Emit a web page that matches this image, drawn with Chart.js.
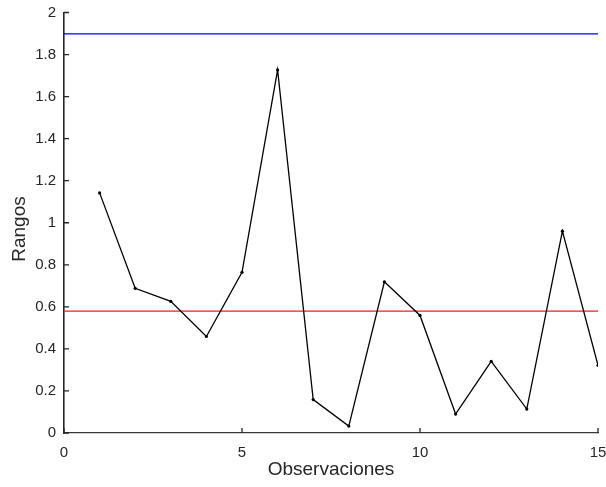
<!DOCTYPE html>
<html>
<head>
<meta charset="utf-8">
<script src="https://cdn.jsdelivr.net/npm/chart.js@4/dist/chart.umd.min.js"></script>
<style>
  html, body { margin: 0; padding: 0; background: #fff; }
  #wrap { width: 606px; height: 487px; position: relative; }
</style>
</head>
<body>
<div id="wrap"><canvas id="c" width="606" height="487"></canvas></div>
<script>
// Observations and their ranges
const observaciones = [1, 2, 3, 4, 5, 6, 7, 8, 9, 10, 11, 12, 13, 14, 15];
const rangos = [1.142, 0.688, 0.626, 0.459, 0.764, 1.727, 0.159, 0.033, 0.719, 0.559, 0.090, 0.341, 0.114, 0.960, 0.322];

// Control limits
const limiteSuperior = 1.898;
const limiteCentral = 0.58;
const limiteX = [0, 15];

// Axis text
const tituloX = 'Observaciones';
const tituloY = 'Rangos';
const xTicks = [0, 5, 10, 15];

const FONT = '"Liberation Sans", Arial, Helvetica, sans-serif';
const TEXT = '#262626';

const serie = observaciones.map((x, i) => ({ x, y: rangos[i] }));
const lineaSup = limiteX.map(x => ({ x, y: limiteSuperior }));
const lineaCen = limiteX.map(x => ({ x, y: limiteCentral }));

// Inward tick marks on both axes, placed by each scale
const inwardTicks = {
  id: 'inwardTicks',
  afterDatasetsDraw(chart) {
    const { ctx, chartArea, scales } = chart;
    const len = 5;
    ctx.save();
    ctx.strokeStyle = TEXT;
    ctx.lineWidth = 1.3;
    ctx.beginPath();
    scales.x.ticks.forEach(t => {
      const px = scales.x.getPixelForValue(t.value);
      ctx.moveTo(px, chartArea.bottom);
      ctx.lineTo(px, chartArea.bottom - len);
    });
    scales.y.ticks.forEach(t => {
      const py = scales.y.getPixelForValue(t.value);
      ctx.moveTo(chartArea.left, py);
      ctx.lineTo(chartArea.left + len, py);
    });
    ctx.stroke();
    ctx.restore();
  }
};

// Axis titles drawn beside the axes
const axisTitles = {
  id: 'axisTitles',
  afterDraw(chart) {
    const { ctx, chartArea } = chart;
    ctx.save();
    ctx.fillStyle = TEXT;
    ctx.font = '19px ' + FONT;
    ctx.textAlign = 'center';
    ctx.textBaseline = 'middle';
    ctx.fillText(tituloX, (chartArea.left + chartArea.right) / 2, 470);
    ctx.translate(20, 229);
    ctx.rotate(-Math.PI / 2);
    ctx.fillText(tituloY, 0, 0);
    ctx.restore();
  }
};

new Chart(document.getElementById('c'), {
  type: 'scatter',
  data: {
    datasets: [
      {
        data: lineaSup,
        showLine: true,
        borderColor: '#0000ff',
        borderWidth: 1.2,
        pointRadius: 0,
        order: 2
      },
      {
        data: lineaCen,
        showLine: true,
        borderColor: '#ff1a1a',
        borderWidth: 1.2,
        pointRadius: 0,
        order: 2
      },
      {
        data: serie,
        showLine: true,
        borderColor: '#000000',
        borderWidth: 1.3,
        pointRadius: 1.6,
        pointBackgroundColor: '#000000',
        pointBorderWidth: 0,
        order: 1
      }
    ]
  },
  options: {
    responsive: false,
    animation: false,
    devicePixelRatio: 1,
    layout: { padding: { top: 12.5, right: 8, left: 0, bottom: 0 } },
    plugins: { legend: { display: false }, tooltip: { enabled: false } },
    scales: {
      x: {
        type: 'linear',
        min: 0,
        max: 15,
        afterFit: s => { s.height = 54; s.paddingLeft = 0; s.paddingRight = 0; },
        afterBuildTicks: s => { s.ticks = xTicks.map(v => ({ value: v })); },
        grid: { display: false, drawTicks: false },
        border: { display: true, color: '#3a3a3a', width: 1.3 },
        ticks: { color: TEXT, font: { family: FONT, size: 15 }, padding: 11, maxRotation: 0 }
      },
      y: {
        type: 'linear',
        min: 0,
        max: 2,
        afterFit: s => { s.width = 64; s.paddingTop = 0; s.paddingBottom = 0; },
        grid: { display: false, drawTicks: false },
        border: { display: true, color: TEXT, width: 1.6 },
        ticks: {
          stepSize: 0.2,
          color: TEXT,
          font: { family: FONT, size: 15 },
          padding: 8,
          callback: v => String(Math.round(v * 10) / 10)
        }
      }
    }
  },
  plugins: [inwardTicks, axisTitles]
});
</script>
</body>
</html>
